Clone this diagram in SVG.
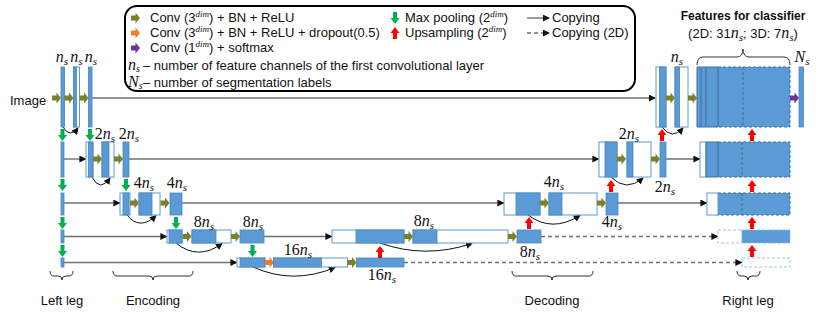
<svg xmlns="http://www.w3.org/2000/svg" width="830" height="315" viewBox="0 0 830 315">
<defs>
<style>
.t{font-family:"Liberation Sans",Arial,sans-serif;font-size:13px;fill:#111}
.tb{font-family:"Liberation Sans",Arial,sans-serif;font-size:12px;font-weight:bold;fill:#111}
.m{font-family:"Liberation Serif","DejaVu Serif",serif;font-size:16px;fill:#111}
.i{font-style:italic}
.sb{font-size:11px;font-style:italic}
.sp{font-family:"Liberation Serif",serif;font-size:9px;font-style:italic}
.b{fill:#5b9bd5;stroke:#4a84c0;stroke-width:0.8}
.w{fill:#fff;stroke:#5b9bd5;stroke-width:1}
.ol{fill:#7f7f27}
.or{fill:#ed7d31}
.pu{fill:#7030a0}
.gr{fill:#00b050}
.rd{fill:#ff0000}
.cp{fill:none;stroke:#707070;stroke-width:1.4;marker-end:url(#ah)}
.cd{fill:none;stroke:#707070;stroke-width:1.4;stroke-dasharray:4 3;marker-end:url(#ah)}
.cv{fill:none;stroke:#111;stroke-width:1;marker-end:url(#ah)}
.br{fill:none;stroke:#333;stroke-width:1}
.dl{stroke:#3d6c9e;stroke-width:1}
.dd{stroke:#3d6c9e;stroke-width:1;stroke-dasharray:3 2;fill:none}
.dw{fill:#fff;stroke:#9fc2e8;stroke-width:1;stroke-dasharray:3 2}
.db{fill:#5b9bd5;stroke:#8fb6e0;stroke-width:1;stroke-dasharray:3 2}
</style>
<marker id="ah" viewBox="0 0 8 8" refX="7" refY="4" markerWidth="7" markerHeight="7" markerUnits="userSpaceOnUse" orient="auto"><path d="M0,0 L8,4 L0,8 Z" fill="#111"/></marker>
<path id="ar" d="M0,-2.5 H4.5 V-5.5 L9,0 L4.5,5.5 V2.5 H0 Z"/>
<path id="ad" d="M-2,0 V6 H-4.5 L0,12 L4.5,6 H2 V0 Z"/>
<path id="au" d="M-2,12 V6 H-4.5 L0,0 L4.5,6 H2 V12 Z"/>
</defs>
<rect width="830" height="315" fill="#fff"/>

<g id="legend">
<rect x="125" y="6" width="510" height="85" rx="12" fill="#fff" stroke="#000" stroke-width="2"/>
<use href="#ar" x="131" y="18" class="ol"/>
<use href="#ar" x="131" y="33" class="or"/>
<use href="#ar" x="131" y="48" class="pu"/>
<text class="t" x="150" y="22">Conv (3<tspan class="sp" dy="-5">dim</tspan><tspan dy="5">) + BN + ReLU</tspan></text>
<text class="t" x="150" y="37" font-size="13.3">Conv (3<tspan class="sp" dy="-5">dim</tspan><tspan dy="5">) + BN + ReLU + dropout(0.5)</tspan></text>
<text class="t" x="150" y="52">Conv (1<tspan class="sp" dy="-5">dim</tspan><tspan dy="5">) + softmax</tspan></text>
<text class="m" x="128" y="70" font-size="14"><tspan class="i">n</tspan><tspan class="i" font-size="10" dy="2">s</tspan></text>
<text class="t" x="143" y="70" font-size="14">– number of feature channels of the first convolutional layer</text>
<text class="m" x="128" y="87" font-size="14"><tspan class="i">N</tspan><tspan class="i" font-size="10" dy="2">s</tspan></text>
<text class="t" x="143" y="87" font-size="14">– number of segmentation labels</text>
<use href="#ad" x="395" y="12" class="gr"/>
<use href="#au" x="395" y="27" class="rd"/>
<text class="t" x="405" y="22" font-size="13.5">Max pooling (2<tspan class="sp" dy="-5">dim</tspan><tspan dy="5">)</tspan></text>
<text class="t" x="405" y="37" font-size="13.5">Upsampling (2<tspan class="sp" dy="-5">dim</tspan><tspan dy="5">)</tspan></text>
<path class="cp" d="M527,18 H549" stroke="#333"/>
<path class="cd" d="M527,33 H549" stroke="#333"/>
<text class="t" x="552" y="22">Copying</text>
<text class="t" x="552" y="37">Copying (2D)</text>
</g>

<g id="connectors">
<path class="cp" d="M92,98 H655"/>
<path class="cp" d="M64,159 H85.5"/>
<path class="cp" d="M129,159 H598.5"/>
<path class="cp" d="M666,159 H699.5"/>
<path class="cp" d="M64,203 H119.5"/>
<path class="cp" d="M182,203 H503.5"/>
<path class="cp" d="M618,203 H706.5"/>
<path class="cp" d="M64,236.5 H166.5"/>
<path class="cp" d="M264,236.5 H331.5"/>
<path class="cd" d="M541,236.5 H717.5"/>
<path class="cp" d="M64,262.5 H236.5"/>
<path class="cd" d="M404,262.5 H741.5"/>
<path class="cv" d="M63,127 Q70,138.5 78,128"/>
<path class="cv" d="M92,177 Q100,192.5 110,178"/>
<path class="cv" d="M611,177 Q626,192.5 643,178"/>
<path class="cv" d="M662,127 Q672,140.5 683,128"/>
<path class="cv" d="M127,215 Q140,231 156,215.5"/>
<path class="cv" d="M528,215 Q552,233 580,215.5"/>
<path class="cv" d="M176,243 Q198,261 222,243.5"/>
<path class="cv" d="M380,243 Q425,259 472,243.5"/>
<path class="cv" d="M253,267 Q293,285 335,267.5"/>
</g>

<g id="l1-enc">
<text class="t" x="10" y="105" font-size="15">Image</text>
<use href="#ar" x="52" y="98" class="ol"/>
<rect class="b" x="61" y="67" width="3.5" height="60"/>
<use href="#ar" x="64.5" y="98" class="ol"/>
<rect class="w" x="73.5" y="67" width="6" height="60"/>
<rect class="b" x="73.5" y="67" width="3" height="60"/>
<use href="#ar" x="79.5" y="98" class="ol"/>
<rect class="b" x="88.5" y="67" width="3.5" height="60"/>
<text class="m" x="62" y="62" text-anchor="middle"><tspan class="i">n</tspan><tspan class="sb" dy="3">s</tspan></text>
<text class="m" x="76.5" y="62" text-anchor="middle"><tspan class="i">n</tspan><tspan class="sb" dy="3">s</tspan></text>
<text class="m" x="91" y="62" text-anchor="middle"><tspan class="i">n</tspan><tspan class="sb" dy="3">s</tspan></text>
</g>

<g id="l1-dec">
<rect class="w" x="656" y="67" width="10" height="60"/>
<rect class="b" x="659.5" y="67" width="6.5" height="60"/>
<use href="#ar" x="666" y="98" class="ol"/>
<rect class="w" x="675" y="67" width="13" height="60"/>
<rect class="b" x="675" y="67" width="4.5" height="60"/>
<use href="#ar" x="688" y="98" class="ol"/>
<text class="m" x="677" y="62" text-anchor="middle"><tspan class="i">n</tspan><tspan class="sb" dy="3">s</tspan></text>
</g>

<g id="features">
<rect x="697" y="67" width="93" height="60" fill="#5b9bd5"/>
<path class="dl" d="M697,67 H718 M697,127 H718 M697,67 V127 M701,67 V127 M706,67 V127 M718,67 V127"/>
<path class="dd" d="M718,67 H790 V127 H718 M743,67 V127"/>
<rect x="700" y="142" width="90" height="35" fill="#5b9bd5"/>
<rect x="700" y="142" width="6" height="35" fill="#fff" stroke="#5b9bd5"/>
<path class="dl" d="M706,142 H718 M706,177 H718 M706,142 V177 M718,142 V177"/>
<path class="dd" d="M718,142 H790 V177 H718 M742,142 V177"/>
<rect x="707" y="193" width="83" height="22" fill="#5b9bd5"/>
<rect x="707" y="193" width="11" height="22" fill="#fff" stroke="#5b9bd5"/>
<path class="dd" d="M718,193 H790 V215 H718 M742,193 V215"/>
<rect class="dw" x="718" y="230" width="24" height="13"/>
<rect class="db" x="742" y="230" width="48" height="13"/>
<rect class="dw" x="742" y="258" width="48" height="9"/>
<use href="#ar" x="790" y="98" class="pu"/>
<rect class="b" x="799" y="67" width="4.5" height="60"/>
<text class="m" x="802" y="62" text-anchor="middle"><tspan class="i">N</tspan><tspan class="sb" dy="3">s</tspan></text>
<path class="br" d="M697,65 Q697,57 703,57 H737 Q743,57 743,49 Q743,57 749,57 H784 Q790,57 790,65"/>
<text class="tb" x="743" y="20" text-anchor="middle" font-size="12.5">Features for classifier</text>
<text class="t" x="743" y="38" text-anchor="middle">(2D: 31<tspan class="m i" font-size="15">n</tspan><tspan class="m sb" dy="3">s</tspan><tspan dy="-3">; 3D: 7</tspan><tspan class="m i" font-size="15">n</tspan><tspan class="m sb" dy="3">s</tspan><tspan dy="-3">)</tspan></text>
<use href="#au" x="662" y="129" class="rd"/>
<use href="#au" x="752" y="129" class="rd"/>
<use href="#au" x="752" y="180" class="rd"/>
<use href="#au" x="752" y="217" class="rd"/>
<use href="#au" x="752" y="245" class="rd"/>
</g>

<g id="l2-enc">
<rect class="b" x="61" y="142" width="3" height="35"/>
<use href="#ad" x="62.5" y="129" class="gr"/>
<use href="#ad" x="90" y="129" class="gr"/>
<rect class="w" x="86" y="142" width="7" height="35"/>
<rect class="b" x="88.5" y="142" width="4.5" height="35"/>
<use href="#ar" x="93" y="159" class="ol"/>
<rect class="w" x="102" y="142" width="12" height="35"/>
<rect class="b" x="102" y="142" width="7" height="35"/>
<use href="#ar" x="114" y="159" class="ol"/>
<rect class="b" x="123" y="142" width="6" height="35"/>
<text class="m" x="105" y="139" text-anchor="middle">2<tspan class="i">n</tspan><tspan class="sb" dy="3">s</tspan></text>
<text class="m" x="129" y="139" text-anchor="middle">2<tspan class="i">n</tspan><tspan class="sb" dy="3">s</tspan></text>
</g>

<g id="l2-dec">
<rect class="w" x="599" y="142" width="18" height="35"/>
<rect class="b" x="605" y="142" width="12" height="35"/>
<use href="#ar" x="617" y="159" class="ol"/>
<rect class="w" x="627" y="142" width="24" height="35"/>
<rect class="b" x="627" y="142" width="6" height="35"/>
<use href="#ar" x="651" y="159" class="ol"/>
<rect class="b" x="660" y="142" width="6" height="35"/>
<use href="#au" x="611" y="180" class="rd"/>
<text class="m" x="629" y="139" text-anchor="middle">2<tspan class="i">n</tspan><tspan class="sb" dy="3">s</tspan></text>
<text class="m" x="665" y="192" text-anchor="middle">2<tspan class="i">n</tspan><tspan class="sb" dy="3">s</tspan></text>
</g>

<g id="l3-enc">
<rect class="b" x="61" y="193" width="3" height="22"/>
<use href="#ad" x="62.5" y="179" class="gr"/>
<use href="#ad" x="126" y="179" class="gr"/>
<rect class="w" x="120" y="193" width="10" height="22"/>
<rect class="b" x="123" y="193" width="6" height="22"/>
<use href="#ar" x="130" y="203" class="ol"/>
<rect class="w" x="139" y="193" width="21" height="22"/>
<rect class="b" x="139" y="193" width="13" height="22"/>
<use href="#ar" x="160.5" y="203" class="ol"/>
<rect class="b" x="170" y="193" width="12" height="22"/>
<text class="m" x="144" y="188" text-anchor="middle">4<tspan class="i">n</tspan><tspan class="sb" dy="3">s</tspan></text>
<text class="m" x="177" y="188" text-anchor="middle">4<tspan class="i">n</tspan><tspan class="sb" dy="3">s</tspan></text>
</g>

<g id="l3-dec">
<rect class="w" x="504" y="193" width="36" height="22"/>
<rect class="b" x="516" y="193" width="24" height="22"/>
<use href="#ar" x="540" y="203" class="ol"/>
<rect class="w" x="549" y="193" width="48" height="22"/>
<rect class="b" x="549" y="193" width="13" height="22"/>
<use href="#ar" x="597" y="203" class="ol"/>
<rect class="b" x="606" y="193" width="12" height="22"/>
<use href="#au" x="529" y="217" class="rd"/>
<text class="m" x="554" y="187" text-anchor="middle">4<tspan class="i">n</tspan><tspan class="sb" dy="3">s</tspan></text>
<text class="m" x="612" y="227" text-anchor="middle">4<tspan class="i">n</tspan><tspan class="sb" dy="3">s</tspan></text>
</g>

<g id="l4-enc">
<rect class="b" x="61" y="230" width="3" height="13"/>
<use href="#ad" x="62.5" y="217" class="gr"/>
<use href="#ad" x="176" y="217" class="gr"/>
<rect class="w" x="167" y="230" width="15" height="13"/>
<rect class="b" x="169" y="230" width="13" height="13"/>
<use href="#ar" x="182.5" y="236.5" class="ol"/>
<rect class="w" x="192" y="230" width="39" height="13"/>
<rect class="b" x="192" y="230" width="24" height="13"/>
<use href="#ar" x="231" y="236.5" class="ol"/>
<rect class="b" x="240" y="230" width="24" height="13"/>
<text class="m" x="204" y="227" text-anchor="middle">8<tspan class="i">n</tspan><tspan class="sb" dy="3">s</tspan></text>
<text class="m" x="253" y="227" text-anchor="middle">8<tspan class="i">n</tspan><tspan class="sb" dy="3">s</tspan></text>
</g>

<g id="l4-dec">
<rect class="w" x="332" y="230" width="72" height="13"/>
<rect class="b" x="356" y="230" width="48" height="13"/>
<use href="#ar" x="404" y="236.5" class="ol"/>
<rect class="w" x="413" y="230" width="95" height="13"/>
<rect class="b" x="413" y="230" width="24" height="13"/>
<use href="#ar" x="508" y="236.5" class="ol"/>
<rect class="b" x="517" y="230" width="24" height="13"/>
<text class="m" x="424" y="226" text-anchor="middle">8<tspan class="i">n</tspan><tspan class="sb" dy="3">s</tspan></text>
<text class="m" x="530" y="257" text-anchor="middle">8<tspan class="i">n</tspan><tspan class="sb" dy="3">s</tspan></text>
</g>

<g id="l5">
<rect class="b" x="61" y="258" width="3" height="9"/>
<use href="#ad" x="62.5" y="245" class="gr"/>
<use href="#ad" x="252.5" y="245" class="gr"/>
<rect class="w" x="237" y="258" width="28" height="9"/>
<rect class="b" x="240" y="258" width="25" height="9"/>
<use href="#ar" x="265" y="262.5" class="or"/>
<rect class="w" x="273.5" y="258" width="74" height="9"/>
<rect class="b" x="273.5" y="258" width="48" height="9"/>
<use href="#ar" x="347.5" y="262.5" class="ol"/>
<rect class="b" x="356.5" y="258" width="47.5" height="9"/>
<use href="#au" x="380" y="246" class="rd"/>
<text class="m" x="298" y="255" text-anchor="middle">16<tspan class="i">n</tspan><tspan class="sb" dy="3">s</tspan></text>
<text class="m" x="382" y="280" text-anchor="middle">16<tspan class="i">n</tspan><tspan class="sb" dy="3">s</tspan></text>
</g>

<g id="bottom-labels">
<path class="br" d="M50,271 Q50,276 54,276 H58 Q62,276 62,280 Q62,276 66,276 H69 Q73,276 73,271"/>
<path class="br" d="M113,271 Q113,276 117,276 H149 Q153,276 153,280 Q153,276 157,276 H189 Q193,276 193,271"/>
<path class="br" d="M512,271 Q512,276 516,276 H548 Q552,276 552,280 Q552,276 556,276 H589 Q593,276 593,271"/>
<path class="br" d="M737,271 Q737,276 741,276 H744 Q748,276 748,280 Q748,276 752,276 H756 Q760,276 760,271"/>
<text class="t" x="62" y="305" text-anchor="middle" font-size="14">Left leg</text>
<text class="t" x="153" y="305" text-anchor="middle" font-size="14">Encoding</text>
<text class="t" x="552" y="305" text-anchor="middle" font-size="14">Decoding</text>
<text class="t" x="748" y="305" text-anchor="middle" font-size="14">Right leg</text>
</g>
</svg>
